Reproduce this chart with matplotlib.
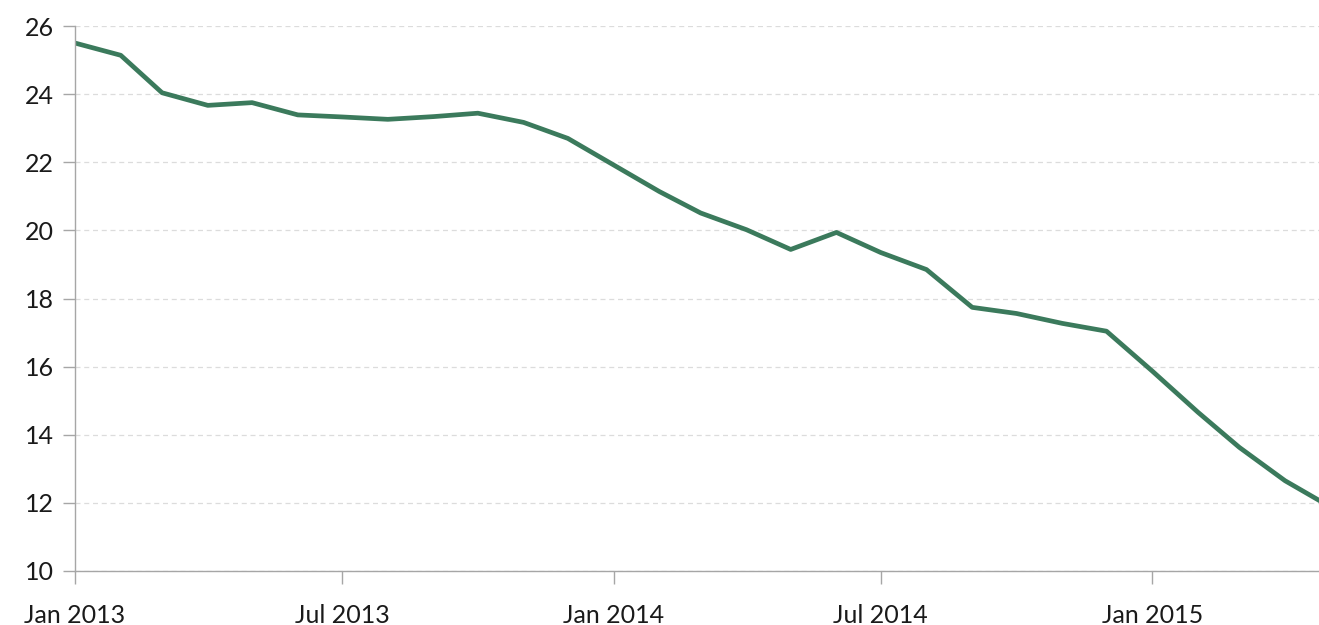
import numpy as np
import pandas as pd
import matplotlib
matplotlib.use("Agg")
import matplotlib.pyplot as plt
import matplotlib.dates as mdates

# monthly values (first of month)
months = pd.date_range("2013-01-01", "2015-05-01", freq="MS")
values = [25.50, 25.14, 24.04, 23.67, 23.75, 23.39, 23.33, 23.26, 23.34, 23.44,
          23.17, 22.70, 21.92, 21.14, 20.51, 20.02, 19.44, 19.94, 19.35, 18.85,
          17.74, 17.56, 17.27, 17.04, 15.87, 14.66, 13.63, 12.65, 11.90]
yticks = [10, 12, 14, 16, 18, 20, 22, 24, 26]

plt.rcParams["font.family"] = ["Lato", "DejaVu Sans"]

fig = plt.figure(figsize=(13.19, 6.25), dpi=100)
ax = fig.add_axes([75 / 1319, 54 / 625, 1 - 75 / 1319, (571 - 26) / 625])

ax.plot(months, values, color="#3b7a5c", lw=3.4, solid_capstyle="butt",
        solid_joinstyle="round")

ax.set_xlim(pd.Timestamp("2013-01-01"), pd.Timestamp("2015-04-24"))
ax.set_ylim(10, 26)
ax.set_yticks(yticks)
ax.xaxis.set_major_locator(mdates.MonthLocator(bymonth=[1, 7]))
ax.xaxis.set_major_formatter(mdates.DateFormatter("%b %Y"))

ax.grid(axis="y", color="#dcdcdc", ls=(0, (4, 3)), lw=0.9)
ax.set_axisbelow(True)
for s in ["top", "right"]:
    ax.spines[s].set_visible(False)
for s in ["left", "bottom"]:
    ax.spines[s].set_color("#a6a6a6")
    ax.spines[s].set_linewidth(1.0)

ax.tick_params(axis="both", colors="#a6a6a6", labelcolor="#1a1a1a",
               labelsize=18, length=9, width=1.0)
ax.tick_params(axis="x", pad=15)
ax.tick_params(axis="y", pad=6)

fig.savefig("out.png", dpi=100)
